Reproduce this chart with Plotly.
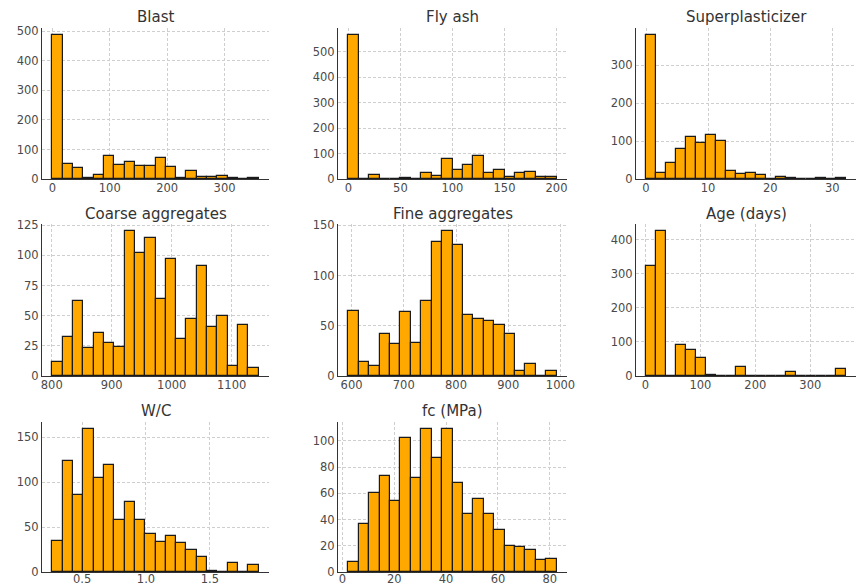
import numpy as np
import plotly.graph_objects as go

# ---------------- data ----------------
titles = ["Blast", "Fly ash", "Superplasticizer", "Coarse aggregates",
          "Fine aggregates", "Age (days)", "W/C", "fc (MPa)"]

# bin range (min, max) for the 20-bin histograms
blast_range = [0.0, 359.4]
flyash_range = [0.0, 200.1]
superp_range = [0.0, 32.2]
coarse_range = [801.0, 1145.0]
fine_range = [594.0, 992.6]
age_range = [1.0, 365.0]
wc_range = [0.267, 1.882]
fc_range = [2.33, 82.6]

blast_counts = [487, 52, 36, 5, 12, 79, 46, 57, 43, 43, 70, 41, 2, 26, 8, 6, 10, 2, 0, 4]
flyash_counts = [566, 0, 15, 0, 0, 2, 0, 22, 13, 80, 37, 57, 90, 22, 36, 8, 25, 28, 8, 8]
superp_counts = [379, 15, 42, 79, 111, 94, 115, 101, 22, 13, 15, 11, 1, 5, 3, 0, 0, 3, 0, 3]
coarse_counts = [12, 32, 62, 23, 36, 27, 24, 120, 102, 114, 64, 97, 31, 47, 91, 41, 50, 8, 42, 7]
fine_counts = [65, 14, 10, 42, 32, 64, 33, 75, 133, 144, 130, 61, 57, 55, 51, 42, 5, 12, 0, 5]
age_counts = [324, 425, 0, 91, 76, 52, 3, 0, 0, 26, 0, 0, 0, 0, 13, 0, 0, 0, 0, 20]
wc_counts = [35, 124, 86, 159, 105, 119, 58, 78, 58, 42, 33, 40, 32, 25, 17, 1, 0, 10, 0, 8]
fc_counts = [8, 37, 60, 73, 54, 102, 72, 109, 87, 109, 68, 44, 56, 44, 32, 20, 19, 17, 9, 10]

ranges = [blast_range, flyash_range, superp_range, coarse_range,
          fine_range, age_range, wc_range, fc_range]
counts = [blast_counts, flyash_counts, superp_counts, coarse_counts,
          fine_counts, age_counts, wc_counts, fc_counts]

# ---------------- style / layout ----------------
W, H = 857, 587
col_px = [(42, 269), (338, 567), (636, 856)]
row_px = [(28, 179), (224, 376), (422, 572)]
x_dticks = [100, 50, 10, 100, 100, 100, 0.5, 20]
y_dticks = [100, 100, 100, 25, 50, 100, 50, 20]
x_formats = ["", "", "", "", "", "", ".1f", ""]

FONT = "DejaVu Sans"
fig = go.Figure()
annotations = []
layout_axes = {}

for i, (title, rng, cnt) in enumerate(zip(titles, ranges, counts)):
    r, c = divmod(i, 3)
    n = len(cnt)
    edges = np.linspace(rng[0], rng[1], n + 1)
    centers = (edges[:-1] + edges[1:]) / 2
    width = edges[1] - edges[0]
    ax = "" if i == 0 else str(i + 1)
    fig.add_trace(go.Bar(
        x=centers, y=cnt, width=width,
        marker=dict(color="#FFA800", line=dict(color="#1a1a1a", width=1.2)),
        xaxis="x" + ax, yaxis="y" + ax, showlegend=False,
    ))
    span = rng[1] - rng[0]
    xr = [rng[0] - 0.05 * span, rng[1] + 0.05 * span]
    yr = [0, max(cnt) * 1.05]
    x0, x1 = col_px[c]
    y0, y1 = row_px[r]
    common = dict(
        showgrid=True, gridcolor="#cfcfcf", griddash="3px,2px", gridwidth=0.8,
        zeroline=False, showline=True, linecolor="#333333", linewidth=1.1,
        ticks="", automargin=False,
        tickfont=dict(family=FONT, size=11.5, color="#4a4a4a"),
    )
    layout_axes["xaxis" + ax] = dict(
        domain=[x0 / W, x1 / W], anchor="y" + ax, range=xr,
        tickmode="linear", tick0=0, dtick=x_dticks[i],
        tickformat=x_formats[i],
        ticklabelstandoff=(-4 if r == 2 else -2), **common)
    layout_axes["yaxis" + ax] = dict(
        domain=[1 - y1 / H, 1 - y0 / H], anchor="x" + ax, range=yr,
        tickmode="linear", tick0=0, dtick=y_dticks[i], **common)
    annotations.append(dict(
        text=title, xref="paper", yref="paper",
        x=(x0 + x1) / 2 / W, y=1 - (y0 + 0.5) / H,
        xanchor="center", yanchor="bottom", showarrow=False,
        font=dict(family=FONT, size=15, color="#333333"),
    ))

fig.update_layout(
    width=W, height=H,
    margin=dict(l=0, r=0, t=0, b=0, autoexpand=False),
    paper_bgcolor="white", plot_bgcolor="white",
    bargap=0, annotations=annotations,
    font=dict(family=FONT),
    **layout_axes,
)

fig.write_html("out.html", config={"displayModeBar": False},
               post_script="document.body.style.margin='0';document.body.style.overflow='hidden';")
